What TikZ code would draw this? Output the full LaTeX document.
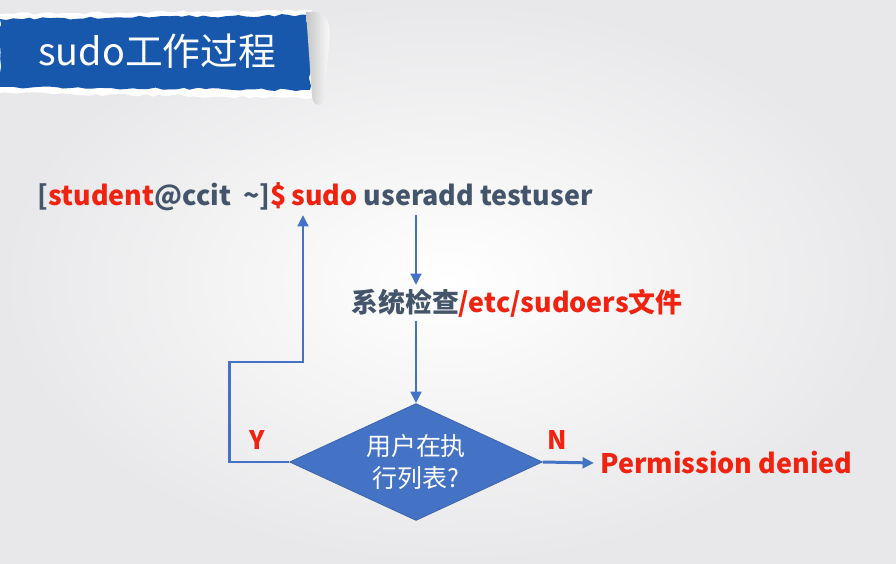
\documentclass[tikz,border=0pt]{standalone}
\usepackage{fontspec}
\setmainfont{Noto Sans CJK SC}
\usetikzlibrary{arrows.meta,calc,shapes.geometric,decorations.pathmorphing}
\definecolor{hotred}{RGB}{240,34,16}
\definecolor{slate}{RGB}{68,84,106}
\definecolor{flowblue}{RGB}{68,114,196}
\definecolor{bannerblue}{RGB}{24,88,172}
\definecolor{bggray}{RGB}{232,232,234}

\begin{document}
\begin{tikzpicture}[x=0.02cm,y=-0.02cm]
\path [use as bounding box] (0,0) rectangle (896,564);
\shade[inner color=white, outer color=bggray] (0,0) rectangle (896,564);
\tikzstyle{flow} = [draw=flowblue, line width=1.7pt, -{Triangle[length=6.5pt,width=6pt]}]
\tikzstyle{bigtxt} = [font=\bfseries\fontsize{15.3}{19}\selectfont, inner sep=2pt]
\tikzstyle{yn} = [text=hotred, font=\bfseries\fontsize{14.5}{17}\selectfont]
% torn banner
\fill[white, decorate, decoration={random steps, segment length=4pt, amplitude=0.8pt}]
  (0,14) -- (312,10) -- (314,98) -- (0,93) -- cycle;
\fill[bannerblue, decorate, decoration={random steps, segment length=4pt, amplitude=0.8pt}]
  (0,19) -- (310,15) -- (310,90) -- (0,87) -- cycle;
\shade[left color=gray!45, right color=white]
  (306,12) .. controls (326,10) and (332,20) .. (329,45) -- (324,100)
  .. controls (320,108) and (313,106) .. (312,96) -- cycle;
\node[text=white, anchor=west, font=\fontsize{21.5}{25}\selectfont] (title) at (32,51) {sudo工作过程};
% flow
\node[bigtxt, anchor=west] (cmd) at (34,197)
  {{\color{slate}[}{\color{hotred}student}{\color{slate}@ccit\ \ \textasciitilde]}{\color{hotred}\$\,sudo}{\color{slate}\ useradd testuser}};
\node[bigtxt] (check) at (517,303) {{\color{slate}系统检查}{\color{hotred}/etc/sudoers文件}};
\node[diamond, fill=flowblue, draw=flowblue!85!black, aspect=2.16, inner sep=0pt,
  minimum width=5.06cm, minimum height=2.34cm, text=white, align=center,
  font=\fontsize{14.2}{18.5}\selectfont] (dia) at (416,462) {用户在执\\行列表?};
\node[anchor=west, text=hotred, font=\bfseries\fontsize{15.3}{19}\selectfont] (deny) at (594,463) {Permission denied};
\node[yn] (yes) at (257,440) {Y};
\node[yn] (no) at (557,440) {N};
\coordinate (bend) at (303,362);
\draw[flow] (cmd.south -| dia.north) -- (check.north -| dia.north);
\draw[flow] (check.south -| dia.north) -- (dia.north);
\draw[flow] (dia.west) -- ++(-60,0) |- (bend) -- (bend |- cmd.south);
\draw[flow] (dia.east) -- (deny.west);
\end{tikzpicture}
\end{document}
